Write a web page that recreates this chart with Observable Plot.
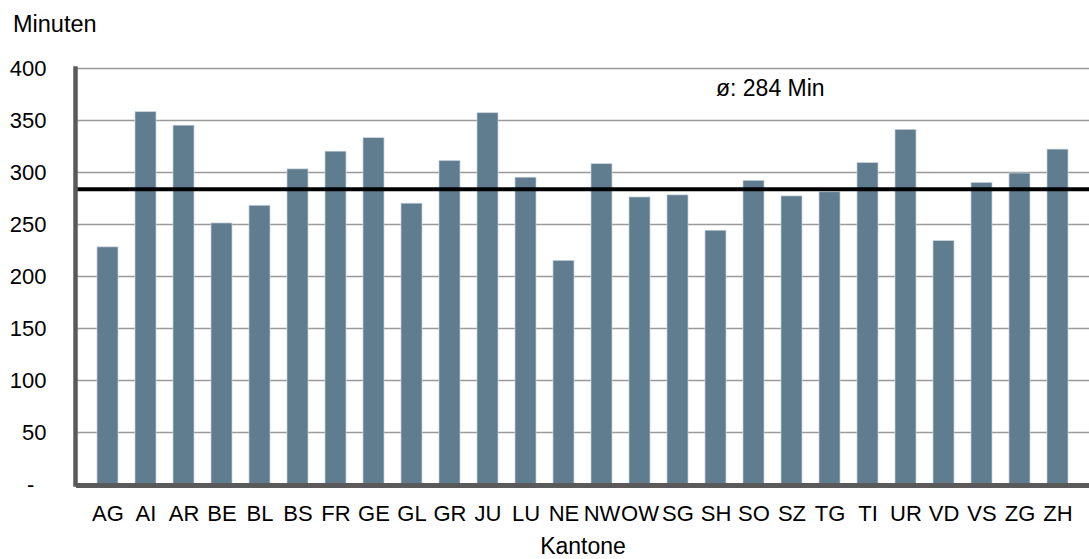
<!DOCTYPE html>
<html><head><meta charset="utf-8">
<script src="https://cdn.jsdelivr.net/npm/d3@7"></script>
<script src="https://cdn.jsdelivr.net/npm/@observablehq/plot@0.6"></script>
<style>
body{margin:0;background:#fff;font-family:"Liberation Sans",Arial,sans-serif;}
#ylab{height:40px;box-sizing:border-box;padding:11px 0 0 13px;font-size:23.5px;color:#000;}
#chart svg{display:block;}
</style></head><body>
<div id="ylab">Minuten</div>
<div id="chart"></div>
<script>
const kantone = ["AG","AI","AR","BE","BL","BS","FR","GE","GL","GR","JU","LU","NE","NW","OW","SG","SH","SO","SZ","TG","TI","UR","VD","VS","ZG","ZH"];
const minuten = [228,358,345,251,268,303,320,333,270,311,357,295,215,308,276,278,244,292,277,281,309,341,234,290,299,322];
const yTicks = [0,50,100,150,200,250,300,350,400];
const durchschnitt = 284;
const durchschnittLabel = "ø: 284 Min";
const xTitle = "Kantone";

const data = kantone.map((k, i) => ({k, v: minuten[i]}));
const font = '"Liberation Sans", Arial, sans-serif';

const chart = Plot.plot({
  width: 1089,
  height: 519,
  marginLeft: 76,
  marginRight: 0,
  marginTop: 28,
  marginBottom: 75,
  style: {fontFamily: font, color: "#000", background: "#fff", overflow: "visible"},
  x: {type: "band", domain: kantone, paddingInner: 0.44, paddingOuter: 0.22, align: 0.5, axis: null},
  y: {domain: [0, 400], axis: null},
  marks: [
    Plot.ruleY(yTicks.filter(d => d > 0), {stroke: "#9a9a9a", strokeWidth: 1.6}),
    Plot.barY(data, {x: "k", y: "v", fill: "#5f7d8f", stroke: "#c5d2da", strokeWidth: 0.7}),
    Plot.ruleY([durchschnitt], {stroke: "#000", strokeWidth: 4}),
    Plot.ruleY([0], {stroke: "#5a5a5a", strokeWidth: 5, dy: 1}),
    Plot.frame({anchor: "left", stroke: "#5a5a5a", strokeWidth: 4.5, dx: -1}),
    Plot.axisY({ticks: yTicks, tickSize: 0, tickPadding: 30, fontSize: 22, fill: "#000", label: null,
      tickFormat: d => d === 0 ? "-\u2007" : String(d)}),
    Plot.axisX({tickSize: 0, tickPadding: 21, fontSize: 22, fill: "#000", label: null}),
    Plot.text([durchschnittLabel], {x: () => "SH", y: () => 381, textAnchor: "start", lineAnchor: "middle", fontSize: 23, fill: "#000"}),
    Plot.text([xTitle], {frameAnchor: "bottom", dy: 62, lineAnchor: "middle", fontSize: 23, fill: "#000"})
  ]
});
document.getElementById("chart").appendChild(chart);
</script>
</body></html>
